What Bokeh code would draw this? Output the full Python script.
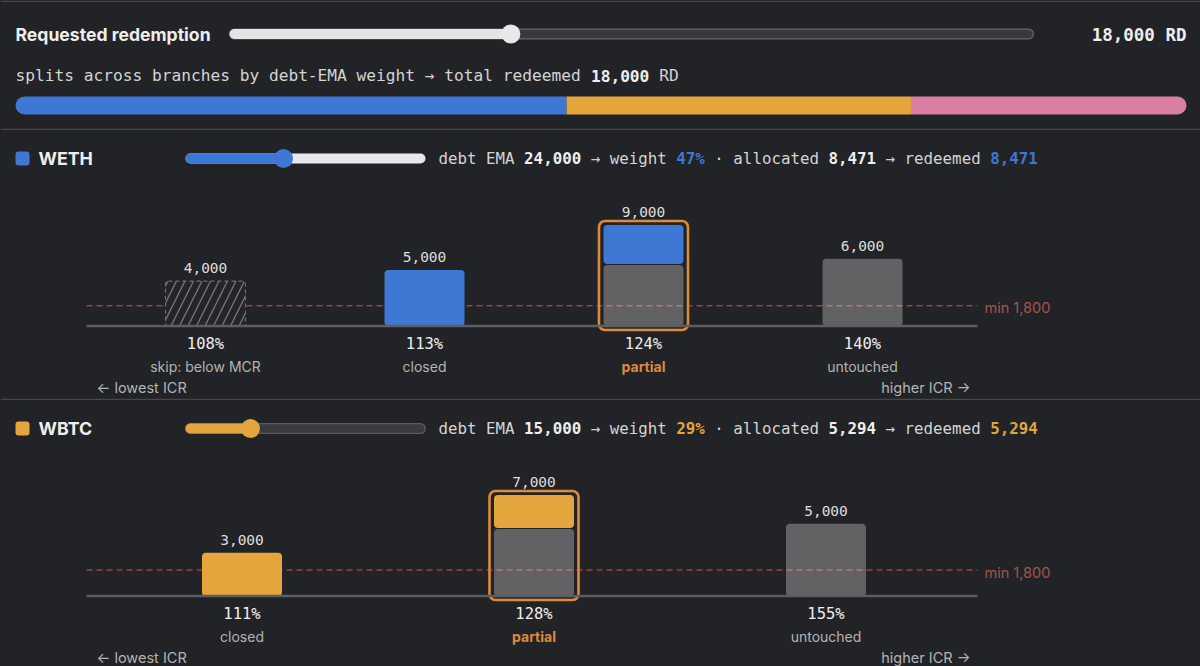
from bokeh.plotting import figure
from bokeh.layouts import column
from bokeh.models import Range1d
from bokeh.core.properties import value
from bokeh.embed import file_html
from bokeh.resources import INLINE

# ---------------- data ----------------
requested = 18000
redeem_slider_max = 52000
branch_names = ["WETH", "WBTC", "other"]
branch_alloc = [8471, 5294, 4235]
debt_ema = [24000, 15000]
weight_pct = [47, 29]
ema_slider_max = 60000
min_debt = 1800

weth_icr = ["108%", "113%", "124%", "140%"]
weth_debt = [4000, 5000, 9000, 6000]
weth_redeemed = [0, 5000, 3471, 0]
weth_status = ["skip: below MCR", "closed", "partial", "untouched"]

wbtc_icr = ["111%", "128%", "155%"]
wbtc_debt = [3000, 7000, 5000]
wbtc_redeemed = [3000, 2294, 0]
wbtc_status = ["closed", "partial", "untouched"]

# ---------------- style ----------------
W = 1200
BG = "#222326"
SEP = "#46474a"
TXT = "#eeeeee"
SUB = "#d4d4d4"
MUTED = "#b4b4b4"
BLUE = "#3f77d4"
AMBER = "#e3a53c"
PINK = "#d97fa3"
BRANCH_COLORS = [BLUE, AMBER, PINK]
PARTIAL = "#dc8a3c"
MINC = "#94463f"
SANS = "Inter"
MONO = "DejaVu Sans Mono"


def make_fig(h, xr=None, yr=None):
    p = figure(width=W, height=h,
               x_range=xr if xr is not None else Range1d(0, W),
               y_range=yr if yr is not None else Range1d(h, 0),
               toolbar_location=None, output_backend="svg", min_border=0,
               x_axis_type=None, y_axis_type=None,
               background_fill_color=BG, border_fill_color=BG,
               outline_line_color=None)
    p.grid.visible = False
    p.extra_x_ranges = {"px": Range1d(0, W)}
    p.extra_y_ranges = {"px": Range1d(h, 0)}
    return p


def txt(p, x, y, s, size, font, color, bold=False, align="left", **kw):
    args = dict(x_range_name="px", y_range_name="px")
    args.update(kw)
    p.text(x=[x], y=[y], text=[s], text_font=value(font),
           text_font_size=f"{size}px", text_color=color,
           text_font_style="bold" if bold else "normal",
           text_align=align, text_baseline="middle", **args)


def runs(p, x, y, parts, size):
    cw = 0.602 * size
    for s, bold, color in parts:
        lead = len(s) - len(s.lstrip(" "))
        core = s.strip(" ")
        if core:
            txt(p, x + lead * cw, y, core, size, MONO, color, bold)
        x += len(s) * cw


def sep(p, y):
    p.segment(x0=[0], x1=[W], y0=[y], y1=[y], line_color=SEP, line_width=1.5,
              x_range_name="px", y_range_name="px")


def slider(p, x0, x1, y, frac, fill, rest, border, thumb, r=10, th=10):
    xt = x0 + r + frac * (x1 - x0 - 2 * r)
    a, b = x0 + th / 2, x1 - th / 2
    kw = dict(x_range_name="px", y_range_name="px", line_cap="round")
    if border:
        p.segment(x0=[a], x1=[b], y0=[y], y1=[y], line_width=th + 1,
                  line_color=border, **kw)
        p.segment(x0=[a], x1=[b], y0=[y], y1=[y], line_width=th - 1.5,
                  line_color=rest, **kw)
    else:
        p.segment(x0=[a], x1=[b], y0=[y], y1=[y], line_width=th,
                  line_color=rest, **kw)
    p.segment(x0=[a], x1=[xt], y0=[y], y1=[y], line_width=th,
              line_color=fill, **kw)
    p.scatter(x=[xt], y=[y], size=2 * r - 1, marker="circle",
              fill_color=thumb, line_color=None,
              x_range_name="px", y_range_name="px")


# ---------------- header ----------------
def header():
    h = 130
    p = make_fig(h)
    total = sum(branch_alloc)
    L, R = 15, 1186
    p.extra_x_ranges["alloc"] = Range1d(-L * total / (R - L),
                                        total + (W - R) * total / (R - L))
    sep(p, 0.75)
    txt(p, 15, 34, "Requested redemption", 17.6, SANS, TXT, bold=True)
    slider(p, 229, 1033, 33.5, requested / redeem_slider_max,
           "#e4e4e4", "#38393c", "#66676a", "#e8e8e8")
    txt(p, 1186, 34, f"{requested:,} RD", 17.5, MONO, TXT, bold=True,
        align="right")
    runs(p, 15, 75, [
        ("splits across branches by debt-EMA weight \u2192 total redeemed ",
         False, SUB),
        (f"{requested:,}", True, TXT),
        (" RD", False, SUB)], 16.2)
    left = 0
    n = len(branch_alloc)
    for i, a in enumerate(branch_alloc):
        if i == 0:
            br = (9, 0, 0, 9)
        elif i == n - 1:
            br = (0, 9, 9, 0)
        else:
            br = 0
        p.hbar(y=[105], left=[left], right=[left + a], height=18,
               fill_color=BRANCH_COLORS[i], line_color=None,
               border_radius=br, x_range_name="alloc", y_range_name="px")
        left += a
    sep(p, 129)
    return p


# ---------------- branch panel ----------------
def panel(h, idx, icr, debt, redeemed, status, bottom_sep):
    name = branch_names[idx]
    color = BRANCH_COLORS[idx]
    n = len(debt)
    S = 876 / n
    cx = 533.5
    base = 195.5
    k = 101 / max(debt)
    xr = Range1d((n - 1) / 2 - cx / S, (n - 1) / 2 + (W - cx) / S)
    yr = Range1d(-(h - base) / k, base / k)
    p = make_fig(h, xr, yr)

    # title row
    p.quad(left=[15], right=[29], top=[21], bottom=[35], fill_color=color,
           line_color=None, border_radius=3,
           x_range_name="px", y_range_name="px")
    txt(p, 38, 28, name, 17.8, SANS, TXT, bold=True)
    if idx == 0:
        slider(p, 185, 425, 28, debt_ema[idx] / ema_slider_max,
               color, "#e8e8e8", None, color)
    else:
        slider(p, 185, 425, 28, debt_ema[idx] / ema_slider_max,
               color, "#3a3b3e", "#5c5d60", color)
    runs(p, 438, 27.5, [
        ("debt EMA ", False, SUB),
        (f"{debt_ema[idx]:,}", True, TXT),
        (" \u2192 weight ", False, SUB),
        (f"{weight_pct[idx]}%", True, color),
        (" \u00b7 allocated ", False, SUB),
        (f"{branch_alloc[idx]:,}", True, TXT),
        (" \u2192 redeemed ", False, SUB),
        (f"{branch_alloc[idx]:,}", True, color)], 15.8)

    # min debt line and baseline
    p.segment(x0=[86], x1=[977], y0=[min_debt], y1=[min_debt],
              line_color=MINC, line_width=1.5, line_dash="6 4",
              x_range_name="px")
    p.text(x=[984], y=[min_debt], text=[f"min {min_debt:,}"],
           text_font=value(SANS), text_font_size="14.5px",
           text_color="#a5534d", text_baseline="middle", y_offset=2,
           x_range_name="px")

    bw = 80 / S
    gap = 1 / k
    xs = list(range(n))
    for i in xs:
        d, r, st = debt[i], redeemed[i], status[i]
        if st.startswith("skip"):
            p.vbar(x=[i], bottom=[0], top=[d], width=bw,
                   fill_color="#242528", hatch_pattern="/",
                   hatch_color="#76777a", hatch_scale=17, hatch_weight=1.3,
                   line_color="#6d6e71", line_dash="4 3", line_width=1.2,
                   border_radius=3)
            continue
        if d - r > 0:
            top = d - r - (gap if r > 0 else 0)
            p.vbar(x=[i], bottom=[0], top=[top], width=bw,
                   fill_color="#ffffff", fill_alpha=0.29, line_color=None,
                   border_radius=4)
        if r > 0:
            p.vbar(x=[i], bottom=[d - r], top=[d], width=bw,
                   fill_color=color, line_color=None, border_radius=4)
        if st == "partial":
            p.vbar(x=[i], bottom=[-4 / k], top=[d + 4 / k], width=89 / S,
                   fill_color=None, line_color=PARTIAL, line_width=2.6,
                   border_radius=6)

    p.segment(x0=[86], x1=[977], y0=[0], y1=[0], line_color="#5d5e62",
              line_width=2.5, x_range_name="px")

    # labels
    p.text(x=xs, y=debt, text=[f"{d:,}" for d in debt],
           text_font=value(MONO), text_font_size="14.5px",
           text_color="#dedede", text_align="center",
           text_baseline="middle", y_offset=-13)
    p.text(x=xs, y=[base + 17.5] * n, text=icr, text_font=value(MONO),
           text_font_size="15.5px", text_color=TXT, text_align="center",
           text_baseline="middle", y_range_name="px")
    for i in xs:
        part = status[i] == "partial"
        p.text(x=[i], y=[base + 40.5], text=[status[i]],
               text_font=value(SANS), text_font_size="14px",
               text_color=PARTIAL if part else MUTED,
               text_font_style="bold" if part else "normal",
               text_align="center", text_baseline="middle",
               y_range_name="px")
    txt(p, 96, base + 61.5, "\u2190 lowest ICR", 14.5, SANS, MUTED)
    txt(p, 970, base + 61.5, "higher ICR \u2192", 14.5, SANS, MUTED,
        align="right")
    if bottom_sep:
        sep(p, h - 1)
    return p


p_head = header()
p_weth = panel(270, 0, weth_icr, weth_debt, weth_redeemed, weth_status, True)
p_wbtc = panel(266, 1, wbtc_icr, wbtc_debt, wbtc_redeemed, wbtc_status, False)

layout = column(p_head, p_weth, p_wbtc, spacing=0)
layout.styles = {"background-color": BG}

open("out.html", "w").write(file_html(layout, INLINE))
